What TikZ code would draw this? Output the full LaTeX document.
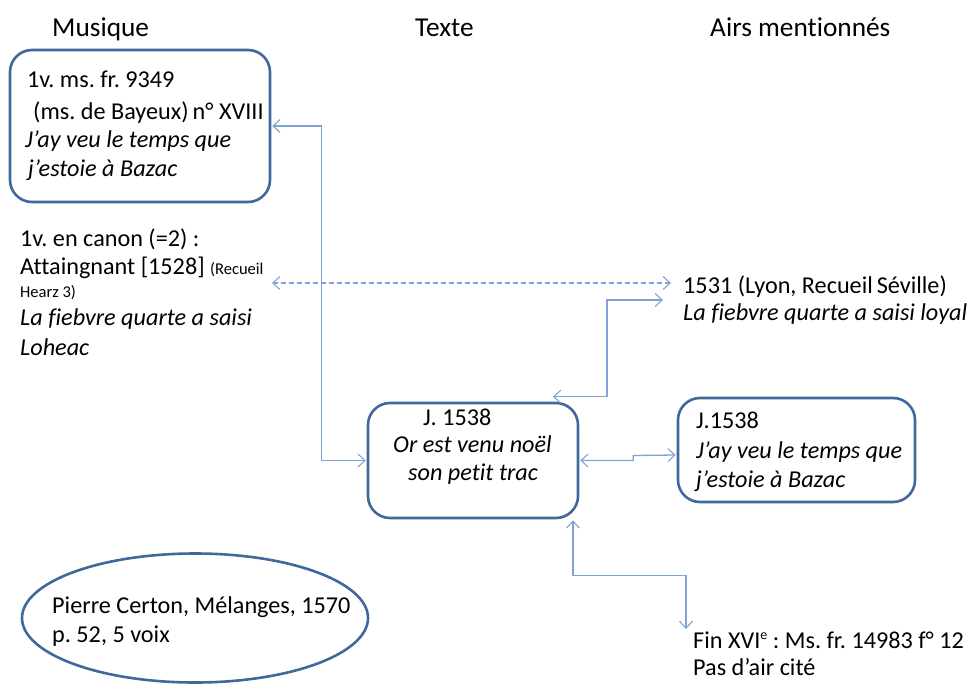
\documentclass[tikz,border=0pt]{standalone}
\usepackage{fontspec}
\setmainfont[Ligatures=NoCommon]{Carlito}
\usetikzlibrary{arrows.meta,shapes.geometric}
\definecolor{boxblue}{HTML}{41689C}
\definecolor{connblue}{HTML}{7FA3D4}
\frenchspacing
\tikzset{
  box/.style={draw=boxblue, line width=2.6pt, rounded corners=22pt, inner sep=0pt},
  txt/.style={anchor=base west, inner sep=0pt, font=\fontsize{24.2}{29}\selectfont},
  itxt/.style={txt, font=\fontsize{24.2}{29}\selectfont\itshape},
  head/.style={anchor=base west, inner sep=0pt, font=\fontsize{27.3}{31}\selectfont},
  conn/.style={draw=connblue, line width=1.3pt,
    {Straight Barb[length=7pt,width=13pt,line width=1.1pt]}-{Straight Barb[length=7pt,width=13pt,line width=1.1pt]}},
  dconn/.style={conn, dash pattern=on 5pt off 3pt}
}
\newcommand{\smalltxt}{\fontsize{16.5}{18}\selectfont}
\begin{document}
\begin{tikzpicture}[x=1pt,y=-1pt]
\useasboundingbox (0,0) rectangle (973,684);
% headers
\node[head] (h1) at (52,37) {Musique};
\node[head] (h2) at (415,37) {Texte};
\node[head] (h3) at (710,37) {Airs mentionnés};
% box A
\node[box, minimum width=260pt, minimum height=152pt] (A) at (140,126) {};
\node[txt] (a1) at (27,88) {1v. ms. fr. 9349};
\node[txt] (a2) at (33,120) {(ms. de Bayeux)\,n° XVIII};
\node[itxt] (a3) at (25,148) {J’ay veu le temps que};
\node[itxt] (a4) at (28,177) {j’estoie à Bazac};
% canon block
\node[txt] (c1) at (20,247) {1v. en canon (=2) :};
\node[txt] (c2) at (20,275) {Attaingnant [1528] {\smalltxt(Recueil}};
\node[txt, font=\smalltxt] (c3) at (20,298) {Hearz 3)};
\node[itxt] (c4) at (20,325) {La fiebvre quarte a saisi};
\node[itxt] (c5) at (20,355) {Loheac};
% 1531
\node[txt] (r1) at (683,293) {1531 (Lyon, Recueil\,Séville)};
\node[itxt] (r2) at (683,320) {La fiebvre quarte a saisi loyal};
% box B
\node[box, minimum width=210pt, minimum height=115pt] (B) at (473,460.5) {};
\node[txt] (b1) at (423,425) {J. 1538};
\node[itxt] (b2) at (393,452) {Or est venu noël};
\node[itxt] (b3) at (408,480) {son petit trac};
% box C
\node[box, minimum width=237pt, minimum height=104pt] (C) at (796.5,450) {};
\node[txt] (k1) at (696,428) {J.1538};
\node[itxt] (k2) at (696,458) {J’ay veu le temps que};
\node[itxt] (k3) at (696,487) {j’estoie à Bazac};
% Fin
\node[txt] (f1) at (693,648) {Fin XVI{\fontsize{14}{16}\selectfont\raisebox{8.5pt}{e}} : Ms. fr. 14983 f° 12};
\node[txt] (f2) at (693,675) {Pas d’air cité};
% ellipse
\node[draw=boxblue, line width=2.6pt, ellipse, minimum width=346pt, minimum height=129pt, inner sep=0pt] (E) at (195,618) {};
\node[txt] (e1) at (52,613) {Pierre Certon, Mélanges, 1570};
\node[txt] (e2) at (52,642) {p. 52, 5 voix};
% connectors
\coordinate (dL) at (272,283);
\coordinate (dR) at (671,283);
\coordinate (sR) at (663,300);
\coordinate (fT) at (686,629);
\draw[conn] ([xshift=1pt]A.east) -- ++(49,0) |- ([xshift=-1pt]B.west);
\draw[dconn] (dL) -- (dR);
\draw[conn] ([xshift=80pt,yshift=5pt]B.north) -- ++(54,0) |- (sR);
\draw[conn] ([xshift=1pt]B.east) -- ++(53,0) -- ++(0,-5) -- ([xshift=-1pt,yshift=-5pt]C.west);
\draw[conn] ([xshift=100pt,yshift=-1pt]B.south) -- ++(0,55) -| (fT);
\end{tikzpicture}
\end{document}
